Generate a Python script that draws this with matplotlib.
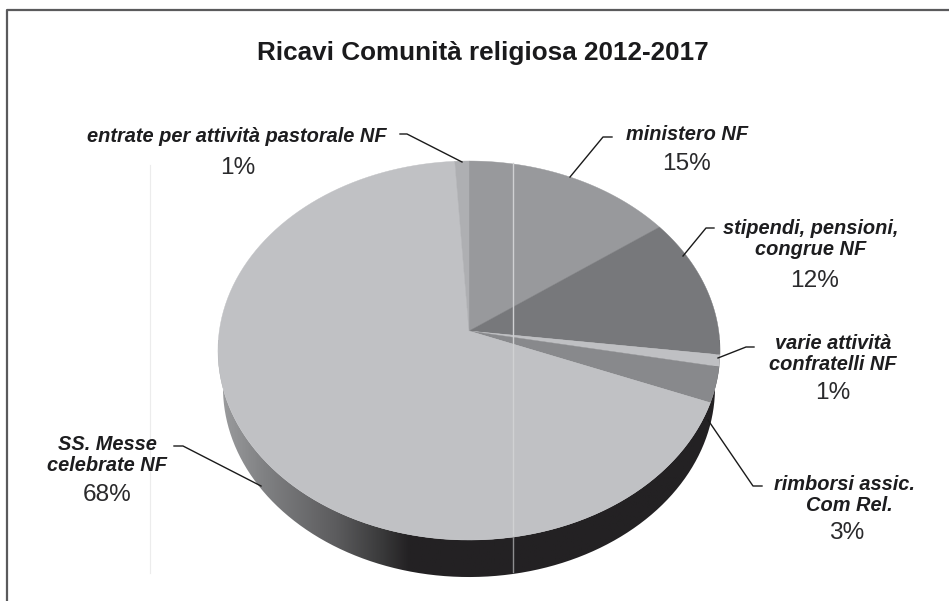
import numpy as np
import matplotlib
matplotlib.use("Agg")
import matplotlib.pyplot as plt
from matplotlib.patches import Polygon, PathPatch
from matplotlib.path import Path
from matplotlib.colors import LinearSegmentedColormap

plt.rcParams["font.family"] = ["Liberation Sans", "DejaVu Sans"]

TITLE = "Ricavi Comunità religiosa 2012-2017"

# clockwise from twelve o'clock
categories = ["ministero NF", "stipendi, pensioni,\ncongrue NF", "varie attività\nconfratelli NF",
              "rimborsi assic.\n  Com Rel.", "SS. Messe\ncelebrate NF", "entrate per attività pastorale NF"]
percent = [15, 12, 1, 3, 68, 1]
slice_colours = ["#98999c", "#77787b", "#bfc0c3", "#88898c", "#c0c1c4", "#aeafb2"]

# pie projection, in pixels
CX, CY = 469, 331
A, B, K = 249.7, 187.5, 0.103
DEPTH = 37


def project(theta):
    u, v = np.sin(theta), np.cos(theta)
    d = 1 + K * v
    return CX + A * u / d, CY - B * v / d


fig = plt.figure(figsize=(9.49, 6.01), dpi=100)
ax = fig.add_axes([0, 0, 1, 1])
ax.set_xlim(0, 949)
ax.set_ylim(601, 0)
ax.axis("off")

# side wall, shaded left to right
t = np.linspace(np.radians(90), np.radians(270), 300)
ex, ey = project(t)
bx = CX + (ex - CX) * 0.98
wall = np.vstack([np.column_stack([ex, ey]), np.column_stack([bx[::-1], ey[::-1] + DEPTH])])
shade = LinearSegmentedColormap.from_list("wall", [(0, "#232123"), (0.62, "#232123"), (0.675, "#3a3a3b"),
                                                   (0.766, "#5c5c5e"), (0.91, "#808183"), (1, "#9c9d9f")])
im = ax.imshow(np.linspace(0, 1, 256)[None, :], cmap=shade, extent=(720, 218, 610, 340), aspect="auto", zorder=1)
im.set_clip_path(PathPatch(Path(wall), transform=ax.transData))
ax.set_xlim(0, 949)
ax.set_ylim(601, 0)

# top face
start = 0.0
total = sum(percent)
for value, colour in zip(percent, slice_colours):
    stop = start + value / total * 2 * np.pi
    t = np.linspace(start, stop, 120)
    x, y = project(t)
    pts = np.vstack([[CX, CY], np.column_stack([x, y])])
    ax.add_patch(Polygon(pts, closed=True, fc=colour, ec=colour, lw=0.3, zorder=2))
    start = stop

# scan seams and outer frame
ax.plot([513, 513], [163, 537], color="#d0d1d3", lw=1, zorder=3)
ax.plot([513, 513], [537, 572], color="#8e8e90", lw=1, zorder=3)
ax.plot([150, 150], [165, 573], color="#ececec", lw=0.8, zorder=0)
ax.plot([7, 7, 949], [601, 10, 10], color="#5a5a5c", lw=1.6, zorder=0)

ax.text(483, 53, TITLE, fontsize=18.8, fontweight="bold", ha="center", va="center", color="#1a1a1c")

# label anchor, percentage anchor, leader line, for each slice
label_xy = [(687, 135), (811, 239), (833, 354), (844, 495), (107, 455), (237, 136)]
pct_xy = [(687, 164), (815, 281), (833, 393), (847, 533), (107, 495), (238, 168)]
leaders = [([570, 603, 612], [177, 137, 137]),
           ([683, 706, 714], [256, 228, 228]),
           ([718, 746, 754], [358, 347, 347]),
           ([708, 753, 762], [420, 486, 486]),
           ([261, 183, 174], [486, 446, 446]),
           ([462, 407, 400], [162, 134, 134])]

for name, value, lxy, pxy, lead in zip(categories, percent, label_xy, pct_xy, leaders):
    ax.text(lxy[0], lxy[1], name, fontsize=14.4, fontweight="bold", style="italic", ha="center", va="center",
            linespacing=1.12, color="#1d1d1f")
    ax.text(pxy[0], pxy[1], f"{value}%", fontsize=17.6, ha="center", va="center", color="#2a2a2c")
    ax.plot(lead[0], lead[1], color="#1a1a1a", lw=1, zorder=4)

fig.savefig("out.png", dpi=100)
